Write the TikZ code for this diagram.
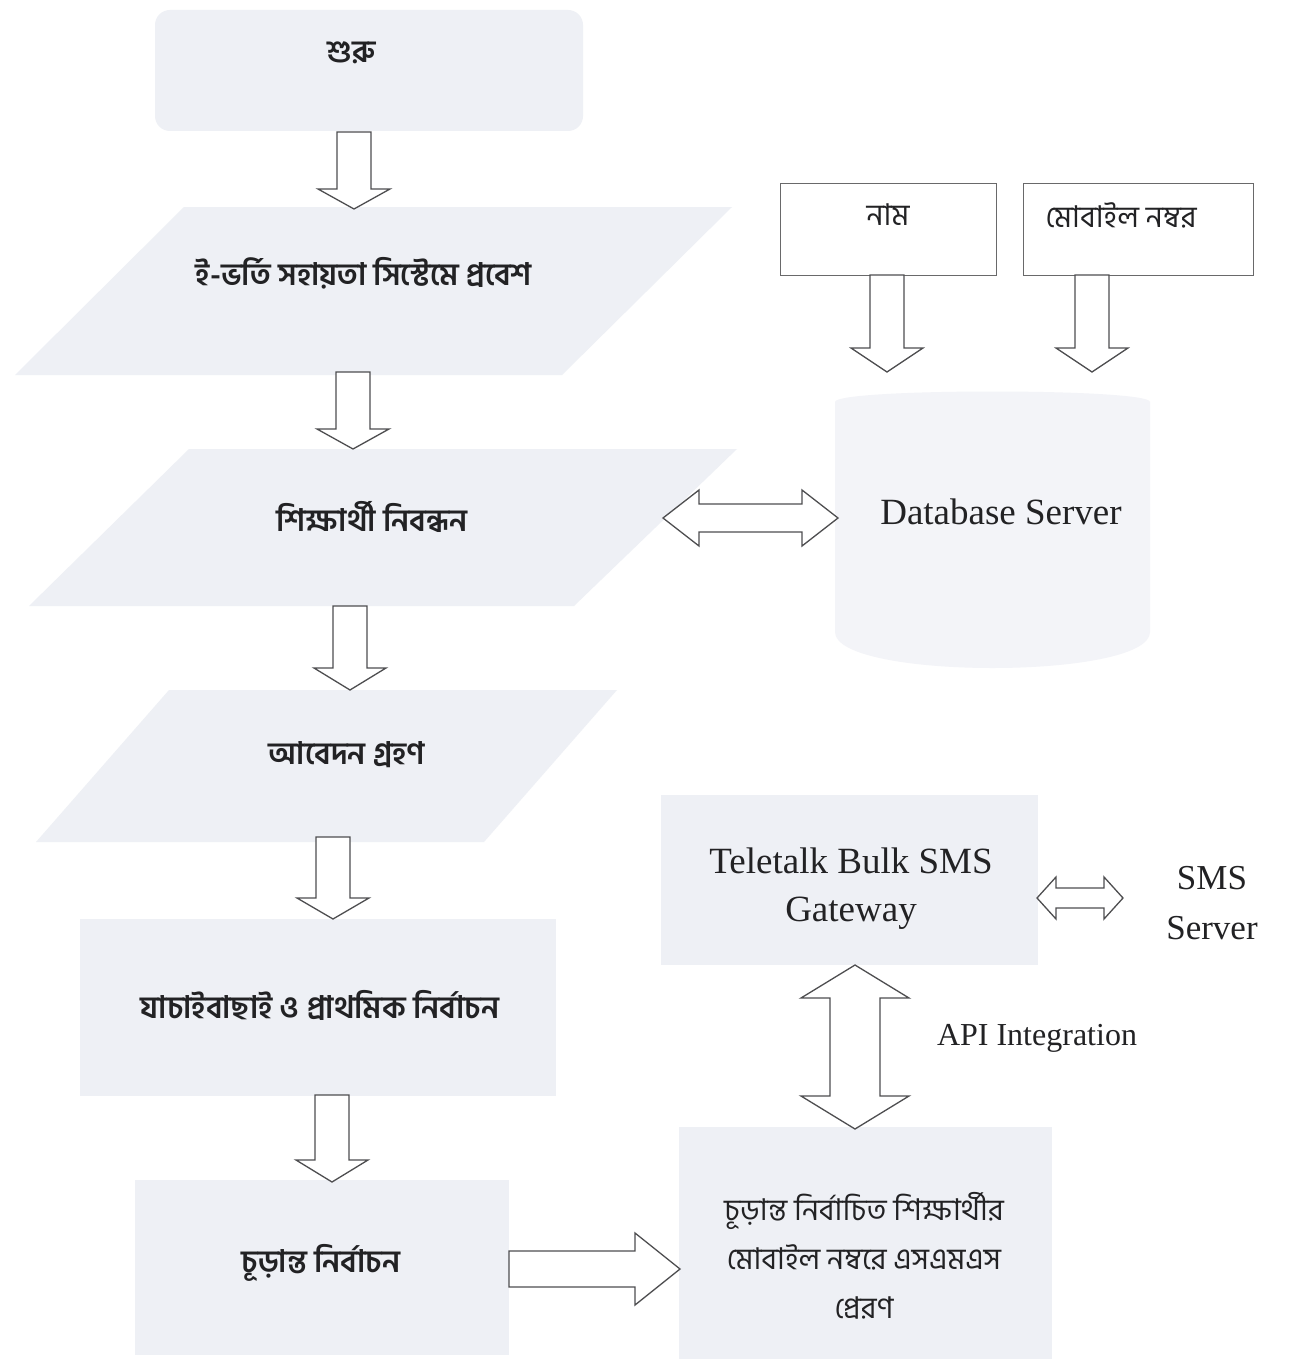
\documentclass[tikz,border=0pt]{standalone}
\usepackage{fontspec}
\setmainfont{Liberation Serif}
\newfontfamily\bn[Script=Bengali]{Hind Siliguri}
\usetikzlibrary{calc}
\definecolor{shade}{RGB}{238,240,245}
\definecolor{shadelight}{RGB}{243,244,248}
\definecolor{txt}{RGB}{34,34,36}
\definecolor{edge}{RGB}{78,78,80}
\tikzset{
  blockarrow/.style={draw=edge, line width=1.3pt, fill=white, line join=miter},
  faint/.style={fill=shade, draw=none},
  thinbox/.style={draw=edge!85, line width=0.9pt, fill=white},
  bnbold/.style={font=\bn\bfseries\fontsize{31}{36}\selectfont, text=txt, inner sep=0pt},
  bnreg/.style={font=\bn\fontsize{30}{49}\selectfont, text=txt, inner sep=0pt, align=center},
  entext/.style={font=\fontsize{37}{48}\selectfont, text=txt, inner sep=0pt, align=center}
}
% vertical block arrow: from (top of shaft) to (tip), head length
\newcommand\varrow[3]{%
  \draw[blockarrow] let \p1=(#1),\p2=(#2) in
   (\x1-17,\y1) -- (\x1+17,\y1) -- (\x1+17,\y2+#3) -- (\x1+36,\y2+#3) -- (\x1,\y2)
   -- (\x1-36,\y2+#3) -- (\x1-17,\y2+#3) -- cycle;}
% horizontal block arrow to the right
\newcommand\harrow[3]{%
  \draw[blockarrow] let \p1=(#1),\p2=(#2) in
   (\x1,\y1+18) -- (\x2-#3,\y1+18) -- (\x2-#3,\y1+36) -- (\x2,\y1) -- (\x2-#3,\y1-36)
   -- (\x2-#3,\y1-18) -- (\x1,\y1-18) -- cycle;}
% vertical double arrow: top tip, bottom tip, head length, shaft hw, head hw
\newcommand\vdouble[5]{%
  \draw[blockarrow] let \p1=(#1),\p2=(#2) in
   (\x1,\y1) -- (\x1+#5,\y1-#3) -- (\x1+#4,\y1-#3) -- (\x1+#4,\y2+#3) -- (\x1+#5,\y2+#3)
   -- (\x1,\y2) -- (\x1-#5,\y2+#3) -- (\x1-#4,\y2+#3) -- (\x1-#4,\y1-#3) -- (\x1-#5,\y1-#3) -- cycle;}
% horizontal double arrow: left tip, right tip, head length, shaft hw, head hw
\newcommand\hdouble[5]{%
  \draw[blockarrow] let \p1=(#1),\p2=(#2) in
   (\x1,\y1) -- (\x1+#3,\y1+#5) -- (\x1+#3,\y1+#4) -- (\x2-#3,\y1+#4) -- (\x2-#3,\y1+#5)
   -- (\x2,\y1) -- (\x2-#3,\y1-#5) -- (\x2-#3,\y1-#4) -- (\x1+#3,\y1-#4) -- (\x1+#3,\y1-#5) -- cycle;}
\begin{document}
\begin{tikzpicture}[x=1pt,y=-1pt]
\useasboundingbox[fill=white] (0,0) rectangle (1293,1359);

% ---- faint shapes ----
\fill[faint, rounded corners=15pt] (155,10) rectangle (583,131);
\fill[faint] (184,207) -- (732,207) -- (562,375) -- (15,375) -- cycle;
\fill[faint] (189,449) -- (737,449) -- (574,606) -- (29,606) -- cycle;
\fill[faint] (169,690) -- (617,690) -- (484,842) -- (36,842) -- cycle;
\fill[faint] (80,919) rectangle (556,1096);
\fill[faint] (135,1180) rectangle (509,1355);
\fill[shadelight] (835,402) -- (835,632) .. controls (835,680) and (1150,680) .. (1150,632)
   -- (1150,402) .. controls (1150,388) and (835,388) .. cycle;
\fill[faint] (661,795) rectangle (1038,965);
\fill[faint] (679,1127) rectangle (1052,1359);

% ---- input boxes ----
\draw[thinbox] (780,183) rectangle (996,275);
\draw[thinbox] (1023,183) rectangle (1253,275);

% ---- texts ----
\node[bnbold] (start) at (352,53) {শুরু};
\node[bnbold] (entry) at (364,273) {ই-ভর্তি সহায়তা সিস্টেমে প্রবেশ};
\node[bnbold] (reg) at (372,517) {শিক্ষার্থী নিবন্ধন};
\node[bnbold] (apply) at (347,755) {আবেদন গ্রহণ};
\node[bnbold] (screen) at (320,1005) {যাচাইবাছাই ও প্রাথমিক নির্বাচন};
\node[bnbold] (final) at (321,1263) {চূড়ান্ত নির্বাচন};
\node[bnreg] (name) at (888,215) {নাম};
\node[bnreg] (mobile) at (1121,215) {মোবাইল নম্বর};
\node[entext] (db) at (1001,512) {Database Server};
\node[entext] (gw) at (851,889) {Teletalk Bulk SMS\\Gateway};
\node[entext, font=\fontsize{35}{50}\selectfont] (sms) at (1212,903) {SMS\\Server};
\node[entext, font=\fontsize{32}{40}\selectfont] (api) at (1037,1038) {API Integration};
\node[bnreg] (send) at (864,1256) {চূড়ান্ত নির্বাচিত শিক্ষার্থীর\\মোবাইল নম্বরে এসএমএস\\প্রেরণ};

% ---- arrow end points ----
\coordinate (a1s) at (354,132);  \coordinate (a1e) at (354,209);
\coordinate (a2s) at (353,372);  \coordinate (a2e) at (353,449);
\coordinate (a3s) at (350,606);  \coordinate (a3e) at (350,690);
\coordinate (a4s) at (333,837);  \coordinate (a4e) at (333,919);
\coordinate (a5s) at (332,1095); \coordinate (a5e) at (332,1182);
\coordinate (a6s) at (887,275);  \coordinate (a6e) at (887,372);
\coordinate (a7s) at (1092,275); \coordinate (a7e) at (1092,372);
\coordinate (a8s) at (509,1269); \coordinate (a8e) at (680,1269);
\coordinate (d1l) at (663,518);  \coordinate (d1r) at (838,518);
\coordinate (d2l) at (1037,898); \coordinate (d2r) at (1123,898);
\coordinate (d3t) at (855,965);  \coordinate (d3b) at (855,1129);

% ---- connectors ----
\varrow{a1s}{a1e}{20}
\varrow{a2s}{a2e}{20}
\varrow{a3s}{a3e}{22}
\varrow{a4s}{a4e}{21}
\varrow{a5s}{a5e}{22}
\varrow{a6s}{a6e}{24}
\varrow{a7s}{a7e}{24}
\harrow{a8s}{a8e}{45}
\hdouble{d1l}{d1r}{36}{14}{28}
\hdouble{d2l}{d2r}{19}{10}{21}
\vdouble{d3t}{d3b}{33}{25}{54}
\end{tikzpicture}
\end{document}
